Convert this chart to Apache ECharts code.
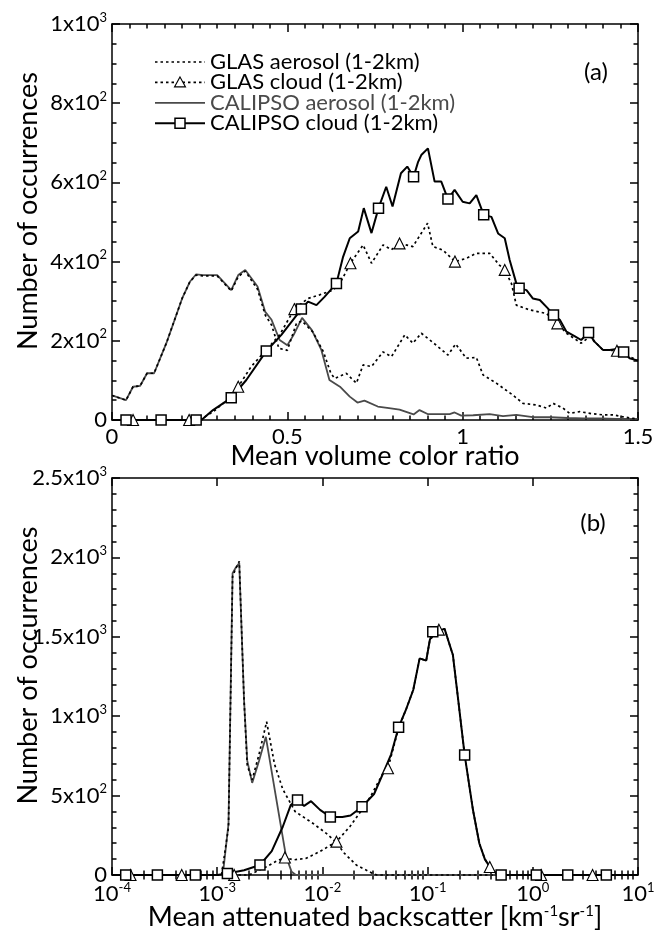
<!DOCTYPE html>
<html>
<head>
<meta charset="utf-8">
<script src="https://cdn.jsdelivr.net/npm/echarts@6/dist/echarts.min.js"></script>
<style>
  html, body { margin: 0; padding: 0; background: #fff; }
  #chart { width: 666px; height: 937px; }
</style>
</head>
<body>
<div id="chart"></div>
<script>
// ---------- Panel (a): mean volume color ratio (1-2 km) ----------
const glasAerosolA = [[0,62],[0.04,50],[0.06,84],[0.08,86],[0.1,118],[0.12,118],[0.155,194],[0.2,307],[0.222,349],[0.24,366],[0.26,364],[0.3,364],[0.34,326],[0.36,362],[0.38,376],[0.415,330],[0.437,265],[0.455,240],[0.476,181],[0.5,176],[0.526,244],[0.542,250],[0.573,222],[0.603,172],[0.624,118],[0.635,105],[0.668,118],[0.697,93],[0.716,139],[0.74,135],[0.773,172],[0.797,160],[0.835,215],[0.858,194],[0.882,219],[0.915,196],[0.958,164],[0.98,192],[1.01,156],[1.039,158],[1.058,114],[1.096,93],[1.143,63],[1.172,42],[1.21,38],[1.239,30],[1.258,42],[1.286,30],[1.305,17],[1.334,21],[1.367,16],[1.4,13],[1.43,13],[1.457,8],[1.486,4],[1.5,2]];

const glasCloudA = [[0,0],[0.06,0],[0.22,0],[0.25,0],[0.29,22],[0.34,59],[0.36,84],[0.397,135],[0.44,177],[0.478,215],[0.52,280],[0.559,307],[0.592,316],[0.63,328],[0.65,345],[0.68,396],[0.716,442],[0.74,396],[0.773,442],[0.797,430],[0.82,446],[0.858,438],[0.9,497],[0.915,438],[0.944,429],[0.978,400],[1.01,408],[1.039,421],[1.077,421],[1.105,391],[1.12,379],[1.139,345],[1.153,290],[1.191,278],[1.239,269],[1.27,244],[1.296,219],[1.338,194],[1.362,210],[1.4,177],[1.44,175],[1.476,160],[1.5,150]];
const glasCloudAMarks = [0.06,0.22,0.36,0.52,0.68,0.82,0.978,1.12,1.27,1.44];

const calipsoAerosolA = [[0,62],[0.04,50],[0.06,84],[0.08,86],[0.1,118],[0.12,118],[0.155,194],[0.2,307],[0.222,349],[0.24,368],[0.26,366],[0.3,366],[0.34,328],[0.36,366],[0.38,379],[0.415,337],[0.437,273],[0.455,253],[0.478,202],[0.5,189],[0.518,215],[0.542,258],[0.57,227],[0.597,177],[0.62,101],[0.65,84],[0.678,59],[0.7,44],[0.72,49],[0.758,34],[0.79,30],[0.82,26],[0.86,14],[0.877,25],[0.9,15],[0.934,15],[0.963,15],[0.977,19],[0.996,11],[1.03,12],[1.077,15],[1.115,10],[1.153,13],[1.2,7],[1.25,7],[1.3,5],[1.345,4],[1.39,4],[1.44,3],[1.5,3]];

const calipsoCloudA = [[0,0],[0.04,0],[0.14,0],[0.24,0],[0.255,0],[0.288,25],[0.34,56],[0.383,101],[0.44,174],[0.483,215],[0.54,280],[0.559,299],[0.583,290],[0.606,311],[0.64,345],[0.659,412],[0.678,459],[0.702,476],[0.718,535],[0.74,472],[0.76,535],[0.782,589],[0.8,539],[0.824,623],[0.842,640],[0.86,614],[0.873,652],[0.882,669],[0.901,686],[0.92,602],[0.939,602],[0.958,558],[0.977,581],[1.0,551],[1.02,547],[1.039,568],[1.06,518],[1.082,513],[1.101,471],[1.12,459],[1.134,404],[1.153,345],[1.161,333],[1.182,328],[1.2,307],[1.22,303],[1.243,282],[1.259,265],[1.277,253],[1.296,223],[1.319,212],[1.338,202],[1.359,221],[1.376,198],[1.4,177],[1.419,177],[1.44,179],[1.459,172],[1.476,156],[1.5,150]];
const calipsoCloudAMarks = [0.04,0.14,0.24,0.34,0.44,0.54,0.64,0.76,0.86,0.958,1.06,1.161,1.259,1.359,1.459];

const xTicksA = [0, 0.5, 1, 1.5];
const yTicksA = [0, 200, 400, 600, 800, 1000];

// ---------- Panel (b): mean attenuated backscatter (km-1 sr-1) ----------
const glasAerosolB = [[1e-4,0],[1.1e-3,0],[1.28e-3,300],[1.4e-3,1880],[1.5e-3,1930],[1.62e-3,1975],[1.8e-3,1100],[1.93e-3,690],[2.15e-3,600],[2.5e-3,760],[2.95e-3,965],[3.5e-3,700],[4.2e-3,540],[5.5e-3,400],[8.1e-3,326],[1.09e-2,262],[1.36e-2,205],[1.6e-2,140],[2.1e-2,63],[2.9e-2,15],[3.3e-2,0],[10,0]];

const glasCloudB = [[1e-4,0],[1.5e-4,0],[4.6e-4,0],[1.45e-3,0],[2.0e-3,0],[2.9e-3,50],[3.6e-3,85],[4.4e-3,110],[5.3e-3,95],[7e-3,105],[9.4e-3,147],[1.36e-2,210],[1.82e-2,304],[2.43e-2,420],[2.9e-2,500],[3.8e-2,645],[4.2e-2,672],[5.3e-2,925],[6.3e-2,1050],[7.3e-2,1165],[8.4e-2,1364],[9.7e-2,1350],[0.105,1480],[0.128,1545],[0.145,1550],[0.174,1385],[0.194,1120],[0.225,756],[0.27,409],[0.31,200],[0.35,100],[0.39,50],[0.47,0],[1.2,0],[3.7,0],[10,0]];
const glasCloudBMarks = [1.5e-4,4.6e-4,1.45e-3,4.4e-3,1.36e-2,4.2e-2,0.128,0.39,1.2,3.7];

const calipsoAerosolB = [[1e-4,0],[1.13e-3,0],[1.28e-3,320],[1.4e-3,1900],[1.5e-3,1935],[1.62e-3,1965],[1.8e-3,1100],[1.93e-3,720],[2.15e-3,580],[2.5e-3,720],[2.9e-3,870],[3.6e-3,500],[4.5e-3,120],[5.1e-3,20],[5.6e-3,0],[10,0]];

const calipsoCloudB = [[1e-4,0],[1.35e-4,0],[2.7e-4,0],[6.2e-4,0],[1.0e-3,0],[1.25e-3,10],[1.8e-3,30],[2.55e-3,63],[3.3e-3,150],[4.2e-3,304],[5.0e-3,440],[5.8e-3,472],[6.7e-3,435],[7.8e-3,465],[9.5e-3,410],[1.19e-2,365],[1.55e-2,365],[1.85e-2,375],[2.38e-2,430],[3.1e-2,510],[3.8e-2,645],[4.5e-2,760],[5.3e-2,930],[6.3e-2,1050],[7.3e-2,1165],[8.4e-2,1364],[9.7e-2,1350],[0.105,1480],[0.112,1532],[0.128,1540],[0.145,1550],[0.174,1385],[0.194,1120],[0.225,756],[0.27,409],[0.31,200],[0.35,100],[0.4,40],[0.47,0],[0.5,0],[1.08,0],[2.15,0],[5.0,0],[10,0]];
const calipsoCloudBMarks = [1.35e-4,2.7e-4,6.2e-4,1.25e-3,2.55e-3,5.8e-3,1.19e-2,2.38e-2,5.3e-2,0.112,0.225,0.5,1.08,2.15,5.0];

const xDecadesB = [1e-4, 1e-3, 1e-2, 1e-1, 1, 10];
const yTicksB = [0, 500, 1000, 1500, 2000, 2500];

// ---------- styling ----------
const FONT = 'Lato';
const BLACK = '#000';
const GREY = '#4a4a4a';
const DOTS = [2.5, 3];

const minorLogTicks = [];
for (let i = 0; i < xDecadesB.length - 1; i++) {
  for (let k = 2; k <= 9; k++) minorLogTicks.push(+(k * xDecadesB[i]).toPrecision(3));
}

const rich = {
  m: { fontSize: 22, fontFamily: FONT, color: BLACK, lineHeight: 26 },
  s: { fontSize: 13, fontFamily: FONT, color: BLACK, lineHeight: 14, verticalAlign: 'top' }
};

function sciLabel(v) {
  if (v === 0) return '{m|0}';
  const e = Math.floor(Math.log10(v) + 1e-9);
  const m = +(v / Math.pow(10, e)).toFixed(2);
  return '{m|' + m + 'x10}{s|' + e + '}';
}
function powLabel(v) {
  return '{m|10}{s|' + Math.round(Math.log10(v)) + '}';
}

const lineSt = { color: BLACK, width: 1.5 };

function frameAxis(o) {
  return Object.assign({
    axisLine: { show: true, onZero: false, lineStyle: lineSt },
    axisTick: { show: true, inside: true, length: 8, lineStyle: lineSt },
    splitLine: { show: false },
    minorSplitLine: { show: false },
    axisLabel: { show: false },
    nameMoveOverlap: false,
    silent: true
  }, o);
}

function markAt(marks) {
  const set = new Set(marks);
  return function (value) { return set.has(value[0]); };
}

function seriesOf(name, data, grid, style, marks, shape) {
  const has = marks ? markAt(marks) : null;
  return {
    name: name,
    type: 'line',
    xAxisIndex: grid === 0 ? 0 : 2,
    yAxisIndex: grid === 0 ? 0 : 2,
    data: data,
    clip: false,
    showSymbol: !!marks,
    showAllSymbol: true,
    symbol: marks ? function (v) { return has(v) ? shape : 'none'; } : 'none',
    symbolSize: shape === 'triangle' ? 11 : 10,
    itemStyle: { color: '#fff', borderColor: BLACK, borderWidth: shape === 'triangle' ? 1.1 : 1.5 },
    lineStyle: style,
    emphasis: { disabled: true },
    z: marks ? 3 : 2
  };
}

const styles = {
  glasAerosol: { color: BLACK, width: 1.7, type: DOTS },
  glasCloud: { color: BLACK, width: 1.7, type: DOTS },
  calipsoAerosol: { color: GREY, width: 1.8, type: 'solid' },
  calipsoCloud: { color: BLACK, width: 2, type: 'solid' }
};

// legend drawn as graphic rows inside panel (a)
const legendRows = [
  { text: 'GLAS aerosol (1-2km)', style: styles.glasAerosol, mark: null, color: BLACK },
  { text: 'GLAS cloud (1-2km)', style: styles.glasCloud, mark: 'triangle', color: BLACK },
  { text: 'CALIPSO aerosol (1-2km)', style: styles.calipsoAerosol, mark: null, color: GREY },
  { text: 'CALIPSO cloud (1-2km)', style: styles.calipsoCloud, mark: 'rect', color: BLACK }
];
const legendGraphic = [];
legendRows.forEach(function (r, i) {
  const y = 62 + i * 20.4;
  legendGraphic.push({
    type: 'line', shape: { x1: 155, y1: y, x2: 205, y2: y },
    style: { stroke: r.style.color, lineWidth: r.style.width, lineDash: r.style.type === 'solid' ? null : r.style.type }
  });
  if (r.mark === 'rect') {
    legendGraphic.push({ type: 'rect', shape: { x: 175, y: y - 5, width: 10, height: 10 },
      style: { fill: '#fff', stroke: BLACK, lineWidth: 1.5 } });
  } else if (r.mark === 'triangle') {
    legendGraphic.push({ type: 'polygon', shape: { points: [[180, y - 5.5], [185.5, y + 4.5], [174.5, y + 4.5]] },
      style: { fill: '#fff', stroke: BLACK, lineWidth: 1.1 } });
  }
  legendGraphic.push({
    type: 'text', x: 210, y: y,
    style: { text: r.text, fontSize: 22, fontFamily: FONT, fill: r.color, verticalAlign: 'middle', textAlign: 'left' }
  });
});
legendGraphic.push({ type: 'text', x: 596, y: 72, style: { text: '(a)', fontSize: 24, fontFamily: FONT, fill: BLACK, textAlign: 'center', verticalAlign: 'middle' } });
legendGraphic.push({ type: 'text', x: 593, y: 523, style: { text: '(b)', fontSize: 24, fontFamily: FONT, fill: BLACK, textAlign: 'center', verticalAlign: 'middle' } });

const nameStyle = { fontSize: 27, fontFamily: FONT, color: BLACK };
// vertical titles sit a little above the panel centre
const yNameStyle = Object.assign({}, nameStyle, { padding: [0, 0, 0, 22] });

const option = {
  animation: false,
  backgroundColor: '#fff',
  grid: [
    { left: 112, top: 24, width: 526, height: 396, outerBoundsMode: 'none', containLabel: false },
    { left: 112, top: 478, width: 526, height: 397, outerBoundsMode: 'none', containLabel: false }
  ],
  xAxis: [
    frameAxis({ gridIndex: 0, type: 'value', position: 'bottom', min: xTicksA[0], max: xTicksA[xTicksA.length - 1], interval: 0.5,
      minorTick: { show: true, splitNumber: 10, length: 4.5, lineStyle: lineSt },
      axisLabel: { show: true, margin: 6, fontSize: 22, fontFamily: FONT, color: BLACK },
      name: 'Mean volume color ratio', nameLocation: 'middle', nameGap: 23, nameTextStyle: nameStyle }),
    frameAxis({ gridIndex: 0, type: 'value', position: 'top', min: 0, max: 1.5, interval: 0.5,
      minorTick: { show: true, splitNumber: 10, length: 4.5, lineStyle: lineSt } }),
    frameAxis({ gridIndex: 1, type: 'log', logBase: 10, position: 'bottom', min: xDecadesB[0], max: xDecadesB[xDecadesB.length - 1],
      axisTick: { show: true, inside: true, length: 8, lineStyle: lineSt, customValues: xDecadesB },
      axisLabel: { show: true, margin: 6, formatter: powLabel, rich: rich, customValues: xDecadesB },
      name: 'Mean attenuated backscatter [km{s|-1}sr{s|-1}]', nameLocation: 'middle', nameGap: 29,
      nameTextStyle: Object.assign({}, nameStyle, { rich: { s: { fontSize: 15, fontFamily: FONT, color: BLACK, verticalAlign: 'top', lineHeight: 15 } } }) }),
    frameAxis({ gridIndex: 1, type: 'log', logBase: 10, position: 'bottom', min: 1e-4, max: 10,
      axisLine: { show: false },
      axisTick: { show: true, inside: true, length: 4.5, lineStyle: lineSt, customValues: minorLogTicks } }),
    frameAxis({ gridIndex: 1, type: 'log', logBase: 10, position: 'top', min: 1e-4, max: 10,
      axisTick: { show: true, inside: true, length: 8, lineStyle: lineSt, customValues: xDecadesB } }),
    frameAxis({ gridIndex: 1, type: 'log', logBase: 10, position: 'top', min: 1e-4, max: 10,
      axisLine: { show: false },
      axisTick: { show: true, inside: true, length: 4.5, lineStyle: lineSt, customValues: minorLogTicks } })
  ],
  yAxis: [
    frameAxis({ gridIndex: 0, type: 'value', position: 'left', min: yTicksA[0], max: yTicksA[yTicksA.length - 1], interval: 200,
      minorTick: { show: true, splitNumber: 4, length: 4.5, lineStyle: lineSt },
      axisLabel: { show: true, margin: 5, formatter: sciLabel, rich: rich },
      name: 'Number of occurrences', nameLocation: 'middle', nameGap: 70, nameTextStyle: yNameStyle }),
    frameAxis({ gridIndex: 0, type: 'value', position: 'right', min: 0, max: 1000, interval: 200,
      minorTick: { show: true, splitNumber: 4, length: 4.5, lineStyle: lineSt } }),
    frameAxis({ gridIndex: 1, type: 'value', position: 'left', min: yTicksB[0], max: yTicksB[yTicksB.length - 1], interval: 500,
      minorTick: { show: true, splitNumber: 5, length: 4.5, lineStyle: lineSt },
      axisLabel: { show: true, margin: 5, formatter: sciLabel, rich: rich },
      name: 'Number of occurrences', nameLocation: 'middle', nameGap: 70, nameTextStyle: yNameStyle }),
    frameAxis({ gridIndex: 1, type: 'value', position: 'right', min: 0, max: 2500, interval: 500,
      minorTick: { show: true, splitNumber: 5, length: 4.5, lineStyle: lineSt } })
  ],
  series: [
    seriesOf('CALIPSO aerosol (1-2km)', calipsoAerosolA, 0, styles.calipsoAerosol),
    seriesOf('GLAS aerosol (1-2km)', glasAerosolA, 0, styles.glasAerosol),
    seriesOf('GLAS cloud (1-2km)', glasCloudA, 0, styles.glasCloud, glasCloudAMarks, 'triangle'),
    seriesOf('CALIPSO cloud (1-2km)', calipsoCloudA, 0, styles.calipsoCloud, calipsoCloudAMarks, 'rect'),
    seriesOf('CALIPSO aerosol (1-2km)', calipsoAerosolB, 1, styles.calipsoAerosol),
    seriesOf('GLAS aerosol (1-2km)', glasAerosolB, 1, styles.glasAerosol),
    seriesOf('GLAS cloud (1-2km)', glasCloudB, 1, styles.glasCloud, glasCloudBMarks, 'triangle'),
    seriesOf('CALIPSO cloud (1-2km)', calipsoCloudB, 1, styles.calipsoCloud, calipsoCloudBMarks, 'rect')
  ],
  graphic: legendGraphic
};

const chart = echarts.init(document.getElementById('chart'), null, { renderer: 'canvas' });
chart.setOption(option);
</script>
</body>
</html>
